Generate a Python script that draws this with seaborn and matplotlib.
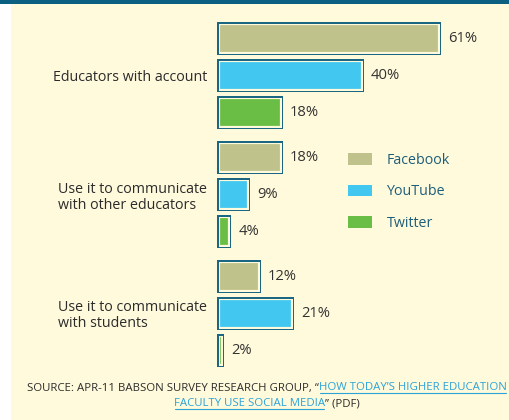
import matplotlib
matplotlib.use("Agg")
import matplotlib.pyplot as plt
import matplotlib.patheffects as pe
from matplotlib.patches import Patch, Rectangle
from matplotlib.lines import Line2D
import seaborn as sns
import pandas as pd

# ---- data ----
categories = ["Educators with account",
              "Use it to communicate\nwith other educators",
              "Use it to communicate\nwith students"]
platforms = ["Facebook", "YouTube", "Twitter"]
facebook = [61, 18, 12]
youtube = [40, 9, 21]
twitter = [18, 4, 2]

colors = ["#BFC38B", "#42C7F1", "#6BBE45"]
cream = "#FFFADC"
teal = "#1B6683"
legend_text = "#1E5E7A"
dark = "#2B2B2B"
link_blue = "#2AA3D8"

rows = []
for name, vals in zip(platforms, [facebook, youtube, twitter]):
    for c, v in zip(categories, vals):
        rows.append({"category": c, "platform": name, "value": v})
df = pd.DataFrame(rows)

sns.set_theme(style="white")
plt.rcParams["font.family"] = ["Open Sans", "DejaVu Sans"]

W, H = 510, 420
fig = plt.figure(figsize=(W / 100, H / 100), dpi=100, facecolor=cream)

# decorative background strips
fig.patches.append(Rectangle((0, 0), 11 / W, 1, transform=fig.transFigure,
                             facecolor="white", edgecolor="none", zorder=0))
fig.patches.append(Rectangle((0, 1 - 3.5 / H), 1, 3.5 / H, transform=fig.transFigure,
                             facecolor="#0B5F80", edgecolor="none", zorder=0))

x0 = 216.7
scale = 3.68
left = x0 / W
ax = fig.add_axes([left, 50 / H, 1 - left, 360 / H])
ax.set_facecolor("none")

sns.barplot(data=df, y="category", x="value", hue="platform", order=categories,
            hue_order=platforms, palette=colors, orient="h", width=0.934, gap=0.12,
            saturation=1, legend=False, ax=ax)

xmax = (W - x0) / scale
ax.set_xlim(0, xmax)
ax.set_ylim(2.477, -0.553)


class EdgeOnly(pe.Stroke):
    """Stroke the outline without filling the face."""
    def draw_path(self, renderer, gc, tpath, affine, rgbFace=None):
        super().draw_path(renderer, gc, tpath, affine, None)


px = 72 / 100  # points per pixel
for p in ax.patches:
    p.set_linewidth(0)
    p.set_clip_path(p.get_path(), p.get_transform())
    p.set_path_effects([
        pe.Normal(),
        EdgeOnly(linewidth=2 * 3.1 * px, foreground=cream),
        EdgeOnly(linewidth=2 * 1.5 * px, foreground=teal),
    ])

for cont in ax.containers:
    ax.bar_label(cont, fmt="{:g}%", padding=5, fontsize=10.6, color="#333333")

for s in ax.spines.values():
    s.set_visible(False)
ax.set_xlabel("")
ax.set_ylabel("")
ax.set_xticks([])
ax.tick_params(axis="y", length=0, pad=7)
for t in ax.get_yticklabels():
    t.set_fontsize(10.3)
    t.set_color(dark)
    t.set_multialignment("left")
    t.set_linespacing(1.1)

handles = [Patch(facecolor=c, edgecolor="none") for c in colors]
fig.legend(handles, platforms, loc="center left",
           bbox_to_anchor=(341 / W, 1 - 192 / H), frameon=False,
           fontsize=10.3, labelcolor=legend_text, borderpad=0,
           handlelength=1.7, handleheight=0.83, handletextpad=0.98,
           labelspacing=1.15)

# ---- source note ----
renderer = fig.canvas.get_renderer()
fs_src = 8.2


def measure(s):
    t = fig.text(0, 0, s, fontsize=fs_src)
    w = t.get_window_extent(renderer).width
    t.remove()
    return w


def draw_line(segments, cx, baseline):
    widths = [measure(s) for s, _ in segments]
    x = cx - sum(widths) / 2
    for (s, link), w in zip(segments, widths):
        fig.text(x / W, 1 - baseline / H, s, fontsize=fs_src,
                 color=link_blue if link else dark, va="baseline", ha="left")
        if link:
            fig.add_artist(Line2D([(x + 1) / W, (x + w - 1) / W],
                                  [1 - (baseline + 2.5) / H] * 2,
                                  color=link_blue, linewidth=0.8))
        x += w


draw_line([("SOURCE: APR-11 BABSON SURVEY RESEARCH GROUP, \u201c", False),
           ("HOW TODAY\u2019S HIGHER EDUCATION", True)], 267, 390.5)
draw_line([("FACULTY USE SOCIAL MEDIA", True),
           ("\u201d (PDF)", False)], 267, 406.5)

fig.savefig("out.png", dpi=100, facecolor=cream)
